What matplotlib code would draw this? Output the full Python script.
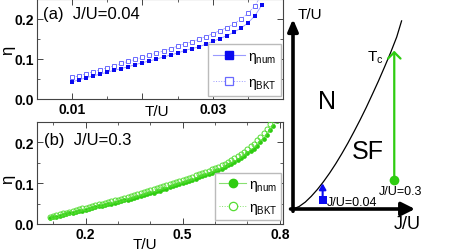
import matplotlib
matplotlib.use("Agg")
import matplotlib.pyplot as plt
from matplotlib.lines import Line2D
from matplotlib.ticker import MultipleLocator, FixedLocator

plt.rcParams['font.family'] = ['Liberation Sans', 'DejaVu Sans']
plt.rcParams['mathtext.fontset'] = 'custom'
plt.rcParams['mathtext.rm'] = 'Liberation Sans'
plt.rcParams['mathtext.it'] = 'Liberation Sans'

# ---------------- data: panel (a), J/U = 0.04 ----------------
T_a = [0.010, 0.011, 0.012, 0.013, 0.014, 0.015, 0.016, 0.017, 0.018, 0.019,
       0.020, 0.021, 0.022, 0.023, 0.024, 0.025, 0.026, 0.027, 0.028, 0.029,
       0.030, 0.031, 0.032, 0.033, 0.034, 0.035, 0.036, 0.037]
eta_num_a = [0.043, 0.048, 0.053, 0.058, 0.062, 0.067, 0.072, 0.076, 0.081, 0.086,
             0.091, 0.095, 0.100, 0.105, 0.110, 0.115, 0.121, 0.126, 0.130, 0.137,
             0.144, 0.151, 0.158, 0.167, 0.177, 0.190, 0.208, 0.235]
eta_bkt_a = [0.054, 0.058, 0.063, 0.068, 0.073, 0.078, 0.083, 0.089, 0.094, 0.099,
             0.104, 0.110, 0.115, 0.120, 0.126, 0.132, 0.138, 0.143, 0.149, 0.156,
             0.163, 0.171, 0.178, 0.188, 0.199, 0.214, 0.233, 0.262]

# ---------------- data: panel (b), J/U = 0.3 ----------------
T_b = [0.09, 0.10, 0.11, 0.12, 0.13, 0.14, 0.15, 0.16, 0.17, 0.18, 0.19,
       0.20, 0.21, 0.22, 0.23, 0.24, 0.25, 0.26, 0.27, 0.28, 0.29,
       0.30, 0.31, 0.32, 0.33, 0.34, 0.35, 0.36, 0.37, 0.38, 0.39,
       0.40, 0.41, 0.42, 0.43, 0.44, 0.45, 0.46, 0.47, 0.48, 0.49,
       0.50, 0.51, 0.52, 0.53, 0.54, 0.55, 0.56, 0.57, 0.58, 0.59,
       0.60, 0.61, 0.62, 0.63, 0.64, 0.65, 0.66, 0.67, 0.68, 0.69,
       0.70, 0.71, 0.72, 0.73, 0.74, 0.75, 0.76, 0.77, 0.78, 0.79]
eta_num_b = [0.014, 0.016, 0.018, 0.020, 0.022, 0.024, 0.026, 0.028, 0.030, 0.031, 0.033,
             0.035, 0.037, 0.039, 0.041, 0.043, 0.045, 0.047, 0.048, 0.050, 0.052,
             0.054, 0.056, 0.058, 0.060, 0.062, 0.064, 0.066, 0.068, 0.070, 0.073,
             0.075, 0.077, 0.080, 0.082, 0.085, 0.087, 0.090, 0.092, 0.095, 0.097,
             0.100, 0.103, 0.105, 0.108, 0.111, 0.114, 0.117, 0.120, 0.123, 0.126,
             0.129, 0.132, 0.136, 0.140, 0.144, 0.148, 0.152, 0.157, 0.162, 0.167,
             0.173, 0.179, 0.185, 0.192, 0.200, 0.209, 0.219, 0.230, 0.240, 0.252]
eta_bkt_b = [0.018, 0.020, 0.022, 0.024, 0.026, 0.028, 0.030, 0.032, 0.034, 0.036, 0.038,
             0.040, 0.042, 0.044, 0.046, 0.048, 0.050, 0.052, 0.054, 0.056, 0.058,
             0.060, 0.062, 0.064, 0.066, 0.069, 0.071, 0.073, 0.076, 0.078, 0.081,
             0.083, 0.085, 0.088, 0.090, 0.093, 0.095, 0.098, 0.100, 0.103, 0.105,
             0.108, 0.111, 0.113, 0.116, 0.119, 0.122, 0.125, 0.128, 0.131, 0.134,
             0.137, 0.140, 0.144, 0.148, 0.152, 0.156, 0.161, 0.166, 0.171, 0.177,
             0.183, 0.190, 0.197, 0.205, 0.214, 0.224, 0.234, 0.246, 0.258, 0.271]

# ---------------- schematic phase diagram (arbitrary units) ----------------
boundary_J = [0.0, 0.05, 0.10, 0.15, 0.20, 0.25, 0.30, 0.35, 0.40, 0.45,
              0.50, 0.55, 0.60, 0.65, 0.70, 0.75, 0.80, 0.85, 0.89]
boundary_T = [0.0, 0.013, 0.036, 0.067, 0.103, 0.144, 0.189, 0.238, 0.291, 0.347,
              0.407, 0.469, 0.534, 0.603, 0.673, 0.747, 0.823, 0.905, 0.99]
path_sf_J = 0.83
path_sf_T = [0.153, 0.833]
path_small_J = 0.243
path_small_T = [0.047, 0.135]

BLUE = '#0a0af0'
BLUE_L = '#6a6aff'
BLUE_LINE = '#9a9aff'
GREEN = '#2ecc10'
GREEN_L = '#55dd33'
GREEN_LINE = '#88e070'

W, H = 463, 253
fig = plt.figure(figsize=(W / 100, H / 100), dpi=100)

def style_axes(ax):
    for s in ax.spines.values():
        s.set_color('#444444')
        s.set_linewidth(0.8)
    ax.tick_params(which='both', direction='in', top=True, right=True,
                   colors='#444444', labelcolor='black')
    ax.tick_params(which='major', length=4, width=0.7, labelsize=10, pad=2)
    ax.tick_params(which='minor', length=2.5, width=0.6)
    for lab in ax.get_xticklabels() + ax.get_yticklabels():
        lab.set_fontweight('bold')

# ---------------- panel (a) ----------------
ax1 = fig.add_axes([37 / W, 1 - 100 / H, 246 / W, 100 / H])
ax1.plot(T_a, eta_num_a, '-', color=BLUE_LINE, lw=0.6, zorder=1)
ax1.plot(T_a, eta_bkt_a, '--', color=BLUE_LINE, lw=0.5, zorder=1)
ax1.plot(T_a, eta_num_a, 's', color=BLUE, ms=3.4, mew=0, zorder=3)
ax1.plot(T_a, eta_bkt_a, 's', mfc='white', mec=BLUE_L, ms=3.5, mew=0.7, zorder=2)
ax1.set_xlim(0.005, 0.04)
ax1.set_ylim(0, 0.25)
ax1.xaxis.set_major_locator(FixedLocator([0.01, 0.02, 0.03]))
ax1.set_xticklabels(['0.01', '', '0.03'])
ax1.xaxis.set_minor_locator(MultipleLocator(0.005))
ax1.yaxis.set_major_locator(FixedLocator([0.0, 0.1, 0.2]))
ax1.set_yticklabels(['0.0', '0.1', '0.2'])
ax1.yaxis.set_minor_locator(MultipleLocator(0.05))
style_axes(ax1)
ax1.set_xlabel('T/U', fontsize=11)
ax1.xaxis.set_label_coords(0.488, -0.055)
ax1.set_ylabel('η', fontsize=12)
ax1.yaxis.set_label_coords(-0.09, 0.5)
ax1.text(0.025, 0.85, '(a)  J/U=0.04', transform=ax1.transAxes, fontsize=12,
         va='center', ha='left')
h1 = [Line2D([], [], color=BLUE_LINE, lw=0.8, marker='s', ms=6, mfc=BLUE, mec=BLUE),
      Line2D([], [], color=BLUE_LINE, lw=0.7, ls=':', marker='s', ms=6, mfc='white',
             mec=BLUE_L, mew=0.9)]
leg1 = ax1.legend(h1, [r'$\mathrm{\eta_{num}}$', r'$\mathrm{\eta_{BKT}}$'],
                  loc='lower right', bbox_to_anchor=(0.993, 0.03), borderaxespad=0,
                  fontsize=10, handlelength=2.3, handletextpad=0.2, labelspacing=0.75,
                  borderpad=0.35, fancybox=False, framealpha=1, edgecolor='#bbbbbb')
leg1.get_frame().set_linewidth(1.0)

# ---------------- panel (b) ----------------
ax2 = fig.add_axes([37 / W, 1 - 225 / H, 246 / W, 102 / H])
ax2.plot(T_b, eta_num_b, '-', color=GREEN_LINE, lw=0.5, zorder=1)
ax2.plot(T_b, eta_num_b, 'o', color=GREEN, ms=3.4, mew=0, zorder=2)
ax2.plot(T_b, eta_bkt_b, 'o', mfc='none', mec=GREEN_L, ms=3.6, mew=0.7, zorder=3)
ax2.set_xlim(0.05, 0.81)
ax2.set_ylim(0, 0.25)
ax2.xaxis.set_major_locator(FixedLocator([0.2, 0.5, 0.8]))
ax2.set_xticklabels(['0.2', '0.5', '0.8'])
ax2.xaxis.set_minor_locator(MultipleLocator(0.1))
ax2.yaxis.set_major_locator(FixedLocator([0.0, 0.1, 0.2]))
ax2.set_yticklabels(['0.0', '0.1', '0.2'])
ax2.yaxis.set_minor_locator(MultipleLocator(0.05))
style_axes(ax2)
ax2.set_xlabel('T/U', fontsize=11)
ax2.xaxis.set_label_coords(0.44, -0.125)
ax2.set_ylabel('η', fontsize=12)
ax2.yaxis.set_label_coords(-0.09, 0.45)
ax2.text(0.03, 0.83, '(b)  J/U=0.3', transform=ax2.transAxes, fontsize=12,
         va='center', ha='left')
h2 = [Line2D([], [], color=GREEN_LINE, lw=0.8, marker='o', ms=6, mfc=GREEN, mec=GREEN),
      Line2D([], [], color=GREEN_LINE, lw=0.7, ls=':', marker='o', ms=6, mfc='white',
             mec=GREEN_L, mew=0.9)]
leg2 = ax2.legend(h2, [r'$\mathrm{\eta_{num}}$', r'$\mathrm{\eta_{BKT}}$'],
                  loc='lower right', bbox_to_anchor=(0.993, 0.04), borderaxespad=0,
                  fontsize=10, handlelength=1.9, handletextpad=0.2, labelspacing=0.5,
                  borderpad=0.3, fancybox=False, framealpha=1, edgecolor='#bbbbbb')
leg2.get_frame().set_linewidth(1.0)

# ---------------- schematic phase diagram ----------------
ax3 = fig.add_axes([285 / W, 0, (W - 285) / W, 1])
ax3.set_xlim((285 - 293) / 122, (W - 293) / 122)
ax3.set_ylim((210 - H) / 190, 210 / 190)
ax3.axis('off')
ax3.plot(boundary_J, boundary_T, color='black', lw=0.9)
ax3.annotate('', xy=(0, 1.0), xytext=(0, -0.012),
             arrowprops=dict(arrowstyle='-|>,head_length=0.7,head_width=0.3', lw=2.6,
                             color='black', shrinkA=0, shrinkB=0))
ax3.annotate('', xy=(1.0, 0), xytext=(-0.02, 0),
             arrowprops=dict(arrowstyle='-|>,head_length=0.8,head_width=0.4', lw=2.6,
                             color='black', shrinkA=0, shrinkB=0))
ax3.annotate('', xy=(path_sf_J, path_sf_T[1]), xytext=(path_sf_J, path_sf_T[0]),
             arrowprops=dict(arrowstyle='->,head_length=0.45,head_width=0.45', lw=1.6,
                             color=GREEN, shrinkA=0, shrinkB=0))
ax3.plot([path_sf_J], [path_sf_T[0]], 'o', color=GREEN, ms=7, mew=0)
ax3.annotate('', xy=(path_small_J, path_small_T[1]), xytext=(path_small_J, path_small_T[0]),
             arrowprops=dict(arrowstyle='-|>,head_length=0.35,head_width=0.2', lw=1.5,
                             color=BLUE, shrinkA=0, shrinkB=0))
ax3.plot([path_small_J], [path_small_T[0]], 's', color=BLUE, ms=5.5, mew=0)
ax3.text(0.04, 1.026, 'T/U', fontsize=11, ha='left', va='center')
ax3.text(0.94, -0.075, 'J/U', fontsize=13, ha='center', va='center')
ax3.text(0.276, 0.57, 'N', fontsize=18, ha='center', va='center')
ax3.text(0.615, 0.305, 'SF', fontsize=18, ha='center', va='center')
ax3.text(0.61, 0.80, r'T$_{\mathrm{c}}$', fontsize=11, ha='left', va='center')
ax3.text(0.885, 0.095, 'J/U=0.3', fontsize=9, ha='center', va='center')
ax3.text(0.28, 0.037, 'J/U=0.04', fontsize=9, ha='left', va='center')

fig.savefig('out.png', dpi=100)
